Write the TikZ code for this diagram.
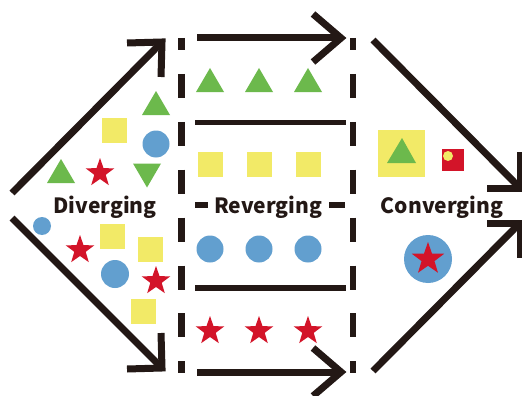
\documentclass[tikz,border=0pt]{standalone}
\usepackage{fontspec}
\newfontfamily\lblfont{Noto Sans CJK JP}
\definecolor{ink}{HTML}{231815}
\definecolor{cgreen}{HTML}{6CB94C}
\definecolor{cyellow}{HTML}{F2EA67}
\definecolor{cblue}{HTML}{629FCF}
\definecolor{cred}{HTML}{D31429}
\tikzset{
  bigarrow/.style={draw=ink, line width=7pt, line cap=butt},
  chevron/.style={draw=ink, line width=7pt, line join=miter, line cap=butt},
  divider/.style={draw=ink, line width=6.5pt, dash pattern=on 24pt off 23.9pt, dash phase=12pt},
  shelf/.style={draw=ink, line width=5.5pt},
  lbl/.style={font=\lblfont\bfseries\fontsize{21}{21}\selectfont, text=ink, anchor=base, inner sep=0pt},
  tri/.pic={\fill[cgreen] (-14,12) -- (0,-12) -- (14,12) -- cycle;},
  trid/.pic={\fill[cgreen] (-14,-12) -- (0,12) -- (14,-12) -- cycle;},
  sq/.pic={\fill[cyellow] (-12.5,-12.5) rectangle (12.5,12.5);},
  dot/.pic={\fill[cblue] (0,0) circle[radius=13.5];},
  star/.pic={\fill[cred] (-90:15) -- (-54:6) -- (-18:15) -- (18:6) -- (54:15) -- (90:6)
      -- (126:15) -- (162:6) -- (198:15) -- (234:6) -- cycle;},
}
\begin{document}
\begin{tikzpicture}[x=1pt, y=-1pt]
\useasboundingbox[fill=white] (0,0) rectangle (522,396);

% ---- key points of the arrows ----
\coordinate (dstart1) at (12,193);  \coordinate (dtip1) at (162,42);
\coordinate (dstart2) at (12,218);  \coordinate (dtip2) at (162,368);
\coordinate (rstart1) at (197,38);  \coordinate (rtip1) at (341,38);
\coordinate (rstart2) at (197,372); \coordinate (rtip2) at (341,372);
\coordinate (cstart1) at (373,40);  \coordinate (ctip1) at (520,188);
\coordinate (cstart2) at (373,371); \coordinate (ctip2) at (520,223);

% ---- diverging arrows ----
\draw[bigarrow] (dstart1) -- (dtip1);
\draw[chevron] (127,43) -- (dtip1) -- (161,77);
\draw[bigarrow] (dstart2) -- (dtip2);
\draw[chevron] (161,333) -- (dtip2) -- (127,369);

% ---- reverging arrows ----
\draw[bigarrow] (rstart1) -- (rtip1);
\draw[chevron] (313,14) -- (rtip1) -- (313,62);
\draw[bigarrow] (rstart2) -- (rtip2);
\draw[chevron] (313,348) -- (rtip2) -- (313,396);

% ---- converging arrows ----
\draw[bigarrow] (cstart1) -- (ctip1);
\draw[chevron] (487,188) -- (ctip1) -- (520,152);
\draw[bigarrow] (cstart2) -- (ctip2);
\draw[chevron] (487,223) -- (ctip2) -- (520,258);

% ---- dashed dividers ----
\coordinate (ltop) at (181.5,38); \coordinate (lbot) at (181.5,373);
\coordinate (rtop) at (353,38);   \coordinate (rbot) at (353,373);
\draw[divider] (ltop) -- (lbot);
\draw[divider] (rtop) -- (rbot);

% ---- shelves in the middle column ----
\coordinate (s1a) at (195,122.5); \coordinate (s1b) at (346,122.5);
\coordinate (s2a) at (195,288);   \coordinate (s2b) at (346,288);
\draw[shelf] (s1a) -- (s1b);
\draw[shelf] (s2a) -- (s2b);
\coordinate (t1a) at (195,204.5); \coordinate (t1b) at (208,204.5);
\coordinate (t2a) at (329,204.5); \coordinate (t2b) at (345,204.5);
\draw[shelf, line width=6pt] (t1a) -- (t1b);
\draw[shelf, line width=6pt] (t2a) -- (t2b);

% ---- labels ----
\node[lbl] (div) at (105,213) {Diverging};
\node[lbl] (rev) at (268,213) {Reverging};
\node[lbl] (con) at (442,213) {Converging};

% ---- diverging: scattered items ----
\pic at (156,103) {tri};
\pic at (114,130) {sq};
\pic at (156,144) {dot};
\pic at (61,171) {tri};
\pic at (100,173) {star};
\pic at (147,175.5) {trid};
\fill[cblue] (42,226) circle[radius=9];
\pic at (80,250) {star};
\pic at (112,236.5) {sq};
\pic at (150,249.5) {sq};
\fill[cblue] (115,274) circle[radius=14];
\pic at (156,281) {star};
\pic at (143,311.5) {sq};

% ---- reverging: sorted rows ----
\foreach \x in {210,259,308} {
  \pic at (\x,80) {tri};
  \pic at (\x,164.5) {sq};
  \pic at (\x,249) {dot};
  \pic at (\x,331) {star};
}

% ---- converging: combined items ----
\fill[cyellow] (378,130) rectangle (425,177);
\fill[cgreen] (387,163) -- (402,138) -- (416,163) -- cycle;
\fill[cred] (442,149) rectangle (464,171);
\fill[cyellow] (448,156) circle[radius=5];
\fill[cblue] (428,259) circle[radius=24];
\pic[scale=17/15] at (428,259) {star};
\end{tikzpicture}
\end{document}
